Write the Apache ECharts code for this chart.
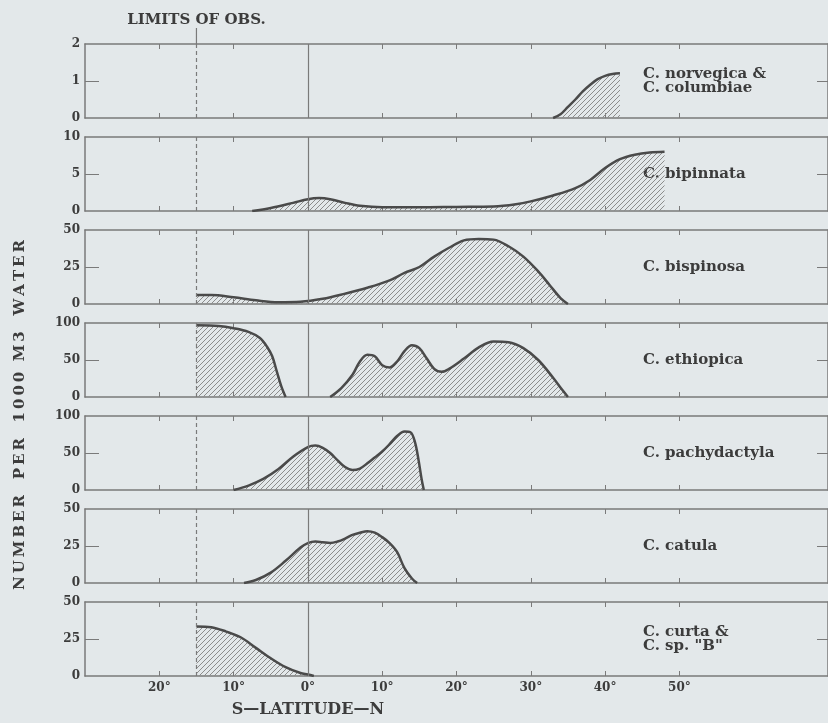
<!DOCTYPE html>
<html>
<head>
<meta charset="utf-8">
<script src="https://cdn.jsdelivr.net/npm/echarts@6/dist/echarts.min.js"></script>
<style>
  html, body { margin: 0; padding: 0; background: #e3e8ea; }
  #chart { width: 828px; height: 723px; }
</style>
</head>
<body>
<div id="chart"></div>
<script>
// latitude in degrees (S negative, N positive), value = number per 1000 m3 water
const norvegica = [[33, 0], [34, 0.1], [35, 0.3], [36, 0.5], [37, 0.72], [38, 0.9], [39, 1.05], [40, 1.14], [41, 1.19], [42, 1.21]];
const bipinnata = [[-7.5, 0], [-5, 0.4], [-2, 1.1], [0, 1.6], [1.5, 1.75], [3, 1.6], [5, 1.1], [7, 0.7], [10, 0.5], [15, 0.5], [20, 0.55], [25, 0.6], [28, 0.9], [30, 1.3], [33, 2.1], [36, 3.1], [38, 4.2], [40, 5.8], [42, 7.0], [44, 7.6], [46, 7.9], [48, 8.0]];
const bispinosa = [[-15, 6], [-13, 6], [-10, 4.5], [-7, 2.5], [-4, 1.2], [-1, 1.5], [2, 3.5], [5, 7], [8, 11], [11, 16], [13, 21], [15, 25], [17, 32], [19, 38], [21, 43], [23, 44], [25, 43.5], [27, 39], [29, 32], [31, 22], [32.5, 13], [34, 4], [35, 0]];
const ethiopicaS = [[-15, 97], [-12, 96], [-10, 93], [-8, 88], [-6.5, 80], [-5.5, 68], [-4.8, 55], [-4.2, 35], [-3.6, 15], [-3, 0]];
const ethiopicaN = [[3, 0], [4.5, 12], [6, 30], [7, 48], [8, 57], [9, 55], [10, 43], [11, 40], [12, 48], [13, 62], [14, 70], [15, 66], [16, 52], [17, 38], [18, 34], [19, 38], [21, 52], [23, 67], [25, 75], [27, 74], [29, 66], [31, 50], [33, 26], [34.2, 10], [35, 0]];
const pachydactyla = [[-10, 0], [-8, 6], [-6, 15], [-4, 28], [-2, 45], [0, 58], [1, 60], [2, 57], [3, 50], [4, 40], [5, 31], [6, 27], [7, 29], [8, 36], [9, 44], [10, 52], [11, 62], [12, 73], [13, 79], [13.8, 78], [14.4, 65], [14.9, 40], [15.3, 15], [15.6, 0]];
const catula = [[-8.6, 0], [-7, 2], [-5, 7], [-3, 15], [-1, 24], [0, 27], [1, 28], [2, 27.5], [3, 27], [4, 28], [5, 30], [6, 32.5], [7, 34], [8, 35], [9, 34], [10, 31], [11, 27], [12, 21], [13, 10], [14, 3], [14.7, 0]];
const curta = [[-15, 33.5], [-13, 33], [-11, 30], [-9, 26], [-7, 19], [-5, 12], [-3, 6], [-1, 2], [0, 1], [0.8, 0]];

const speciesNames = ['C. norvegica &\nC. columbiae', 'C. bipinnata', 'C. bispinosa', 'C. ethiopica', 'C. pachydactyla', 'C. catula', 'C. curta &\nC. sp. "B"'];
const yMax = [2, 10, 50, 100, 100, 50, 50];
const panelData = [[norvegica], [bipinnata], [bispinosa], [ethiopicaS, ethiopicaN], [pachydactyla], [catula], [curta]];
const xTicks = [-20, -10, 10, 20, 30, 40, 50];
const xLabels = [-20, -10, 0, 10, 20, 30, 40, 50];
const limitOfObs = -15;

const serif = '"DejaVu Serif", "Liberation Serif", serif';
const axisColor = '#7a7a7a';
const textColor = '#3c3c3c';

// hatch pattern for the filled areas
const hatch = document.createElement('canvas');
hatch.width = 5; hatch.height = 5;
(function () {
    const ctx = hatch.getContext('2d');
    ctx.strokeStyle = '#8c8c8c';
    ctx.lineWidth = 1;
    ctx.beginPath();
    ctx.moveTo(0, 5); ctx.lineTo(5, 0);
    ctx.moveTo(-1, 1); ctx.lineTo(1, -1);
    ctx.moveTo(4, 6); ctx.lineTo(6, 4);
    ctx.stroke();
})();

const gridTop = 44, gridStep = 93, gridH = 74, gridLeft = 85, gridW = 745;

const grids = [], xAxes = [], yAxes = [], series = [];
for (let i = 0; i < 7; i++) {
    grids.push({ left: gridLeft, width: gridW, top: gridTop + i * gridStep, height: gridH });
}
// bottom x axes
for (let i = 0; i < 7; i++) {
    xAxes.push({
        type: 'value', gridIndex: i, min: -30, max: 70, interval: 10,
        axisLine: { onZero: false, lineStyle: { color: axisColor, width: 1.5 } },
        axisTick: { inside: true, length: 5, customValues: xTicks, lineStyle: { color: axisColor } },
        axisLabel: {
            show: i === 6, customValues: xLabels, margin: 6,
            fontFamily: serif, fontWeight: 'bold', fontSize: 12, color: textColor,
            formatter: v => Math.abs(v) + '°'
        },
        splitLine: { show: false }
    });
}
// top x axes (ticks only)
for (let i = 0; i < 7; i++) {
    xAxes.push({
        type: 'value', gridIndex: i, position: 'top', min: -30, max: 70, interval: 10,
        axisLine: { onZero: false, lineStyle: { color: axisColor, width: 1.5 } },
        axisTick: { inside: true, length: 5, customValues: xTicks, lineStyle: { color: axisColor } },
        axisLabel: { show: false },
        splitLine: { show: false }
    });
}
// left y axes
for (let i = 0; i < 7; i++) {
    yAxes.push({
        type: 'value', gridIndex: i, min: 0, max: yMax[i], interval: yMax[i] / 2,
        axisLine: { show: true, onZero: false, lineStyle: { color: axisColor, width: 1.5 } },
        axisTick: { inside: true, length: 14, customValues: [yMax[i] / 2], lineStyle: { color: axisColor } },
        axisLabel: { margin: 5, fontFamily: serif, fontWeight: 'bold', fontSize: 12, color: textColor },
        splitLine: { show: false }
    });
}
// right y axes (mid tick only)
for (let i = 0; i < 7; i++) {
    yAxes.push({
        type: 'value', gridIndex: i, position: 'right', min: 0, max: yMax[i], interval: yMax[i] / 2,
        axisLine: { show: true, onZero: false, lineStyle: { color: axisColor, width: 1.5 } },
        axisTick: { inside: true, length: 11, customValues: [yMax[i] / 2], lineStyle: { color: axisColor } },
        axisLabel: { show: false },
        splitLine: { show: false }
    });
}

panelData.forEach((parts, i) => {
    parts.forEach((data, k) => {
        const s = {
            type: 'line', xAxisIndex: i, yAxisIndex: i, data: data,
            smooth: 0.35, symbol: 'none', silent: true,
            lineStyle: { color: '#4a4a4a', width: 2.5 },
            areaStyle: { color: { image: hatch, repeat: 'repeat' }, opacity: 1 },
            z: 3
        };
        if (k === 0) {
            s.markLine = {
                silent: true, symbol: 'none', animation: false,
                label: { show: false },
                data: [
                    { xAxis: 0, lineStyle: { type: 'solid', color: axisColor, width: 1.2 } },
                    { xAxis: limitOfObs, lineStyle: { type: [4, 3], color: axisColor, width: 1.2 } }
                ]
            };
        }
        series.push(s);
    });
});

const myChart = echarts.init(document.getElementById('chart'));
myChart.setOption({
    backgroundColor: '#e3e8ea',
    animation: false,
    grid: grids,
    xAxis: xAxes,
    yAxis: yAxes,
    series: series
});

// text annotations placed from the axis scales
const limitX = myChart.convertToPixel({ xAxisIndex: 0 }, limitOfObs);
const zeroX = myChart.convertToPixel({ xAxisIndex: 6 }, 0);
const spaced = s => s.split('').join('\u2009');
const graphics = [
    { type: 'text', x: limitX, y: 20,
      style: { text: 'LIMITS OF OBS.', font: 'bold 15px ' + serif, fill: textColor, align: 'center', verticalAlign: 'middle' } },
    { type: 'line', shape: { x1: limitX, y1: 28, x2: limitX, y2: gridTop }, style: { stroke: axisColor, lineWidth: 1.2 } },
    { type: 'text', x: zeroX, y: 710,
      style: { text: 'S—LATITUDE—N', font: 'bold 16px ' + serif, fill: textColor, align: 'center', verticalAlign: 'middle' } },
    { type: 'text', x: 20, y: 415, rotation: Math.PI / 2,
      style: { text: spaced('NUMBER') + '   ' + spaced('PER') + '   ' + spaced('1000') + '  ' + spaced('M3') + '   ' + spaced('WATER'),
               font: 'bold 15px ' + serif, fill: textColor, align: 'center', verticalAlign: 'middle' } }
];
speciesNames.forEach((name, i) => {
    graphics.push({
        type: 'text', x: 643, y: gridTop + i * gridStep + gridH / 2,
        style: { text: name, font: 'bold 15px ' + serif, fill: textColor, verticalAlign: 'middle', lineHeight: 14 }
    });
});
myChart.setOption({ graphic: graphics });
</script>
</body>
</html>
